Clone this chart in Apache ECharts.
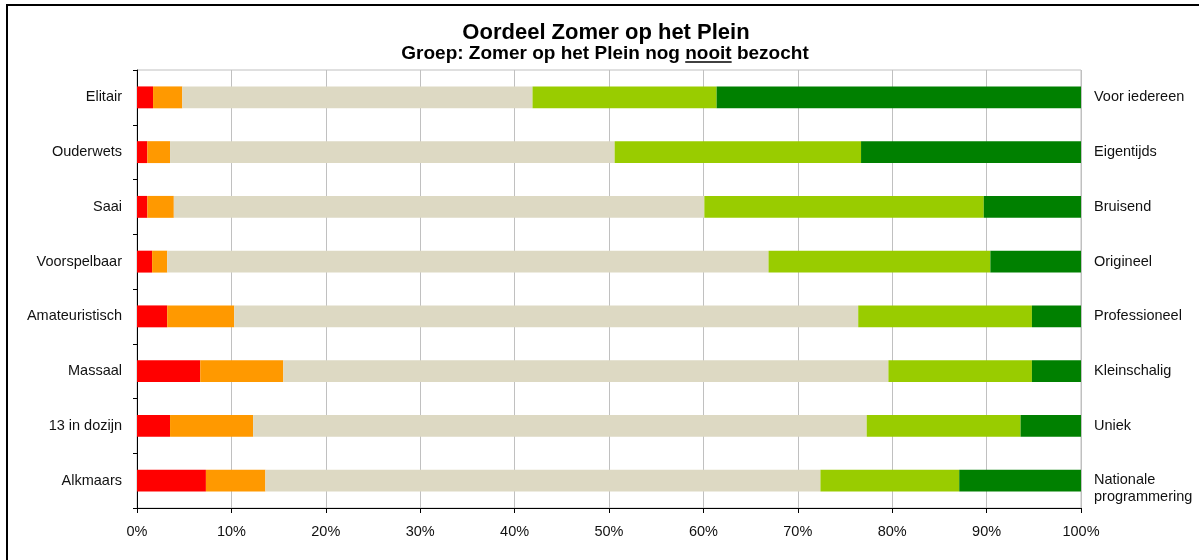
<!DOCTYPE html>
<html>
<head>
<meta charset="utf-8">
<script src="https://cdn.jsdelivr.net/npm/echarts@6/dist/echarts.min.js"></script>
<style>
html,body{margin:0;padding:0;background:#fff;}
#chart{width:1199px;height:560px;}
</style>
</head>
<body>
<div id="chart"></div>
<script>
var titleText = 'Oordeel Zomer op het Plein';
var subPre = 'Groep: Zomer op het Plein nog ';
var subUnder = 'nooit';
var subPost = ' bezocht';

var categories = ['Elitair','Ouderwets','Saai','Voorspelbaar','Amateuristisch','Massaal','13 in dozijn','Alkmaars'];
var rightLabels = ['Voor iedereen','Eigentijds','Bruisend','Origineel','Professioneel','Kleinschalig','Uniek','Nationale\nprogrammering'];
var xTicks = [0,10,20,30,40,50,60,70,80,90,100];

var redVals    = [1.7, 1.1, 1.1, 1.6, 3.2, 6.7, 3.5, 7.3];
var orangeVals = [3.1, 2.4, 2.8, 1.6, 7.1, 8.8, 8.8, 6.3];
var beigeVals  = [37.1, 47.1, 56.2, 63.7, 66.1, 64.1, 65.0, 58.8];
var lgreenVals = [19.5, 26.1, 29.6, 23.5, 18.4, 15.2, 16.3, 14.7];
var dgreenVals = [38.6, 23.3, 10.3, 9.6, 5.2, 5.2, 6.4, 12.9];

var seriesNames = ['1','2','3','4','5'];
var seriesColors = ['#FF0000','#FF9900','#DDD9C3','#99CC00','#008000'];
var seriesData = [redVals, orangeVals, beigeVals, lgreenVals, dgreenVals];

var FONT = '"Liberation Sans", Arial, sans-serif';
var subSize = 19;
var subFont = 'bold ' + subSize + 'px ' + FONT;
var labelSize = 14.5;

// measure subtitle pieces for underline
var cv = document.createElement('canvas').getContext('2d');
cv.font = subFont;
var fullW = cv.measureText(subPre + subUnder + subPost).width;
var preW = cv.measureText(subPre).width;
var undW = cv.measureText(subUnder).width;
var subCx = 605;
var subLeft = subCx - fullW / 2;
var subY = 54;

var chart = echarts.init(document.getElementById('chart'), null, {renderer: 'canvas'});

var series = seriesData.map(function (d, i) {
  return {
    name: seriesNames[i],
    type: 'bar',
    stack: 'total',
    barWidth: '40%',
    itemStyle: {color: seriesColors[i]},
    data: d,
    yAxisIndex: 0
  };
});

var rightData = rightLabels.map(function (l) {
  if (l.indexOf('\n') >= 0) {
    return {value: l, textStyle: {verticalAlign: 'top', padding: [-9, 0, 0, 0]}};
  }
  return l;
});

chart.setOption({
  animation: false,
  backgroundColor: '#ffffff',
  grid: {left: 137, right: 118, top: 70, bottom: 52, show: true, borderColor: '#C0C0C0', borderWidth: 1, backgroundColor: 'transparent'},
  xAxis: {
    type: 'value',
    min: 0, max: 100, interval: 10,
    axisLine: {show: true, lineStyle: {color: '#000', width: 1}},
    axisTick: {show: true, length: 5, lineStyle: {color: '#000'}},
    splitLine: {show: true, lineStyle: {color: '#C0C0C0', width: 1}},
    axisLabel: {
      formatter: function (v) { return xTicks.indexOf(v) >= 0 ? v + '%' : ''; },
      color: '#111', fontSize: labelSize, fontFamily: FONT, margin: 16
    }
  },
  yAxis: [
    {
      type: 'category',
      data: categories,
      inverse: true,
      position: 'left',
      axisLine: {show: true, lineStyle: {color: '#000', width: 1}},
      axisTick: {show: true, length: 4, lineStyle: {color: '#000'}},
      axisLabel: {color: '#111', fontSize: labelSize, fontFamily: FONT, margin: 15}
    },
    {
      type: 'category',
      data: rightData,
      inverse: true,
      position: 'right',
      axisLine: {show: false},
      axisTick: {show: false},
      axisLabel: {color: '#111', fontSize: labelSize, fontFamily: FONT, margin: 13, lineHeight: 17}
    }
  ],
  series: series,
  graphic: [
    {type: 'line', shape: {x1: 6, y1: 5, x2: 1199, y2: 5}, style: {stroke: '#000', lineWidth: 2}, z: 100},
    {type: 'line', shape: {x1: 7, y1: 4, x2: 7, y2: 560}, style: {stroke: '#000', lineWidth: 2}, z: 100},
    {type: 'text', x: 606, y: 33, style: {text: titleText, font: 'bold 22px ' + FONT, fill: '#000', textAlign: 'center', textVerticalAlign: 'middle'}, z: 100},
    {type: 'text', x: subLeft, y: subY, style: {text: subPre + subUnder + subPost, font: subFont, fill: '#000', textAlign: 'left', textVerticalAlign: 'middle'}, z: 100},
    {type: 'line', shape: {x1: subLeft + preW, y1: subY + 8, x2: subLeft + preW + undW, y2: subY + 8}, style: {stroke: '#000', lineWidth: 1.5}, z: 100}
  ]
});
</script>
</body>
</html>
